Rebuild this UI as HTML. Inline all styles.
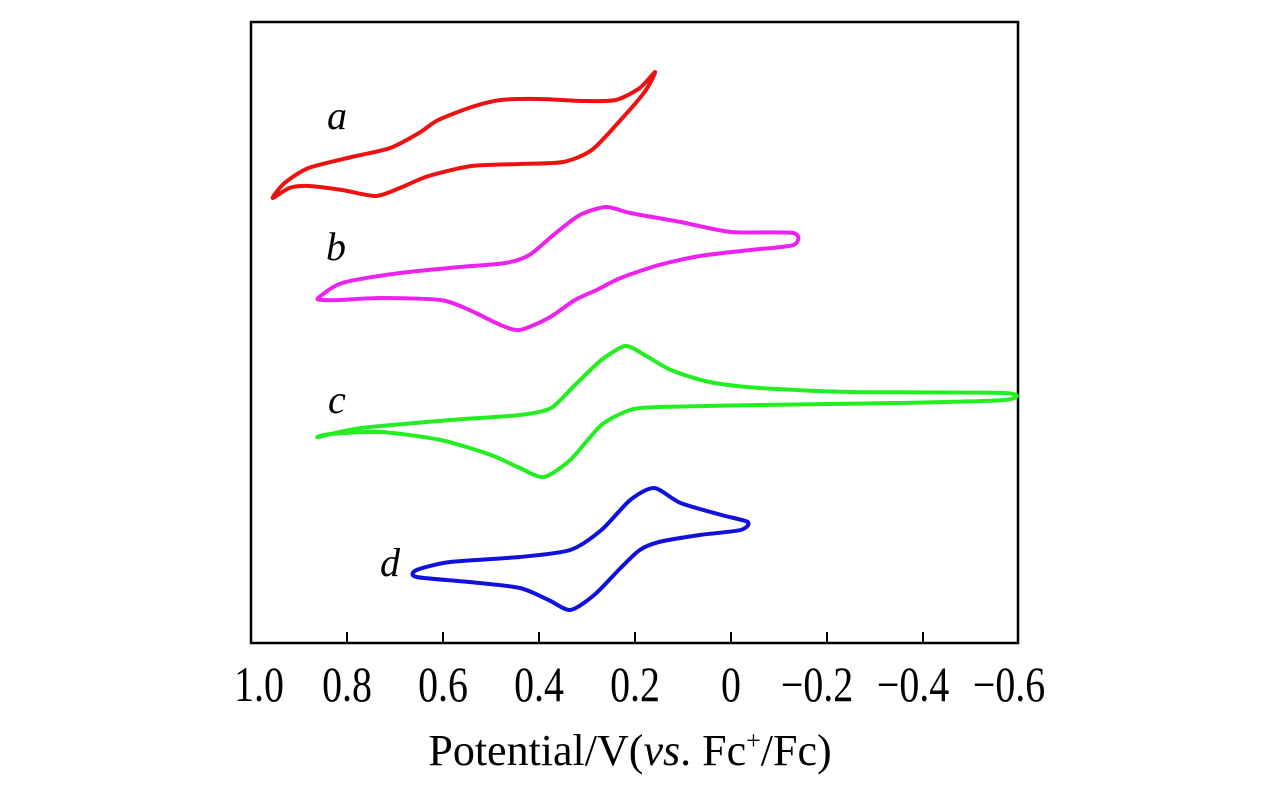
<!DOCTYPE html>
<html><head><meta charset="utf-8"><style>
body{margin:0;background:#fff}
svg{display:block}
text{font-family:"Liberation Serif",serif;fill:#000}
</style></head><body>
<svg id="chart" width="1276" height="787">
<rect x="251" y="22" width="767" height="621" fill="none" stroke="#000" stroke-width="2.5"/>
<g id="ticks"></g><g id="curves"></g>
<text x="327" y="129" font-size="40" font-style="italic">a</text>
<text x="326" y="260" font-size="40" font-style="italic">b</text>
<text x="328" y="413" font-size="40" font-style="italic">c</text>
<text x="380" y="576" font-size="40" font-style="italic">d</text>
<text x="630" y="765" font-size="44" text-anchor="middle">Potential/V(<tspan font-style="italic">vs</tspan>. Fc<tspan font-size="26" dy="-16">+</tspan><tspan dy="16">/Fc)</tspan></text>
</svg>
<script>
const tickValues=[1.0,0.8,0.6,0.4,0.2,0,-0.2,-0.4,-0.6];
const tickLabels=["1.0","0.8","0.6","0.4","0.2","0","\u22120.2","\u22120.4","\u22120.6"];
const curveA_E=[0.158,0.19,0.24,0.31,0.40,0.48,0.54,0.61,0.65,0.71,0.79,0.88,0.93,0.955,0.92,0.88,0.81,0.74,0.69,0.63,0.54,0.44,0.35,0.29,0.23,0.18];
const curveA_I=[571,555,543,542,544,543,536,523,510,495,486,475,460,445,455,457,453,447,455,467,477,479,481,493,523,551];
const curveB_E=[0.86,0.81,0.69,0.565,0.47,0.42,0.37,0.315,0.26,0.21,0.105,0.0,-0.13,-0.13,-0.04,0.065,0.15,0.23,0.28,0.325,0.38,0.44,0.48,0.545,0.605,0.73,0.815,0.85];
const curveB_I=[345,360,370,376,380,388,408,428,436,430,421,411,410,398,393,387,378,365,353,343,325,313,318,333,343,345,343,343];
const curveC_E=[0.86,0.77,0.585,0.44,0.375,0.325,0.27,0.22,0.18,0.125,0.045,-0.06,-0.25,-0.57,-0.57,-0.35,-0.06,0.15,0.21,0.27,0.335,0.39,0.44,0.50,0.605,0.73,0.835];
const curveC_I=[206,215,223,228,235,258,283,297,288,273,261,255,251,250,243,240,238,236,233,218,183,166,175,188,203,211,209];
const curveD_E=[0.655,0.585,0.44,0.335,0.27,0.21,0.16,0.105,0.02,-0.035,-0.02,0.065,0.15,0.19,0.23,0.285,0.335,0.38,0.44,0.545,0.655];
const curveD_I=[73,81,86,93,113,143,155,140,128,121,113,108,101,93,75,48,33,43,55,61,66];
const xS=v=>731-480*v, yS=i=>643-i;
const NS="http://www.w3.org/2000/svg";
const tg=document.getElementById('ticks');
tickValues.forEach((v,k)=>{
  if(k>0&&k<tickValues.length-1){
    const l=document.createElementNS(NS,'line');
    l.setAttribute('x1',xS(v));l.setAttribute('x2',xS(v));l.setAttribute('y1',643);l.setAttribute('y2',632);
    l.setAttribute('stroke','#000');l.setAttribute('stroke-width','2');
    
    
    tg.appendChild(l);
  }
  const t=document.createElementNS(NS,'text');
  const cx=xS(v)+(v<0?-10:(v>0.9?8:0));
  t.setAttribute('x',0);t.setAttribute('y',0);t.setAttribute('font-size','38');t.setAttribute('text-anchor','middle');
  t.setAttribute('transform',`translate(${cx},701) scale(1.05,1.3)`);
  t.textContent=tickLabels[k];
  
  
  tg.appendChild(t);
});
function smooth(E,I){
  const p=E.map((e,k)=>[xS(e),yS(I[k])]),n=p.length;let d=`M${p[0][0]},${p[0][1]}`;
  for(let k=0;k<n;k++){const p0=p[(k-1+n)%n],p1=p[k],p2=p[(k+1)%n],p3=p[(k+2)%n];
    d+=`C${p1[0]+(p2[0]-p0[0])/8},${p1[1]+(p2[1]-p0[1])/8} ${p2[0]-(p3[0]-p1[0])/8},${p2[1]-(p3[1]-p1[1])/8} ${p2[0]},${p2[1]}`;}
  return d+'Z';
}
const cg=document.getElementById('curves');
[[curveA_E,curveA_I,'#ee1111','curve-a'],[curveB_E,curveB_I,'#ee22ee','curve-b'],[curveC_E,curveC_I,'#22ee22','curve-c'],[curveD_E,curveD_I,'#1111dd','curve-d']].forEach(c=>{
  const p=document.createElementNS(NS,'path');
  p.setAttribute('d',smooth(c[0],c[1]));p.setAttribute('fill','none');p.setAttribute('stroke',c[2]);p.setAttribute('stroke-width','4');p.setAttribute('stroke-linejoin','round');
  
  
  cg.appendChild(p);
});
</script>
</body></html>
